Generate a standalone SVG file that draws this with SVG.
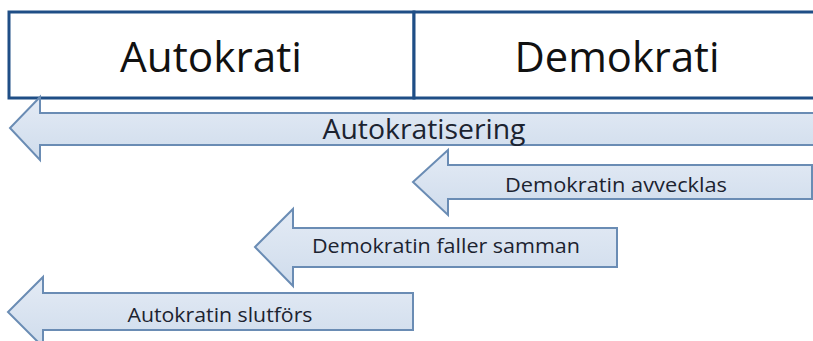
<svg xmlns="http://www.w3.org/2000/svg" width="813" height="341" viewBox="0 0 813 341">
<defs>
<linearGradient id="ag" x1="0" y1="0" x2="0" y2="1">
<stop offset="0" stop-color="#e4ebf5"/>
<stop offset="1" stop-color="#cfdcec"/>
</linearGradient>
</defs>
<style>
.box{fill:#ffffff;stroke:#1f4e86;stroke-width:3}
.arr{fill:url(#ag);stroke:#6a8cb4;stroke-width:2;stroke-linejoin:miter}
.big{font-family:"Open Sans","Liberation Sans",sans-serif;font-size:42px;fill:#111111;text-anchor:middle}
.lbl{font-family:"Open Sans","Liberation Sans",sans-serif;fill:#1c2330;text-anchor:middle}
</style>
<rect width="813" height="341" fill="#ffffff"/>
<g id="autokrati">
<rect class="box" x="9" y="12" width="405" height="86"/>
<text class="big" x="211" y="72" textLength="182" lengthAdjust="spacingAndGlyphs">Autokrati</text>
</g>
<g id="demokrati">
<path class="box" d="M414,12 H816 V98 H414 Z"/>
<text class="big" x="617" y="72" textLength="205" lengthAdjust="spacingAndGlyphs">Demokrati</text>
</g>
<g id="autokratisering">
<path class="arr" d="M816,113 H40 V97 L10,128 L40,160 V145 H816 Z"/>
<text class="lbl" x="424" y="139" font-size="27" textLength="203" lengthAdjust="spacingAndGlyphs">Autokratisering</text>
</g>
<g id="demokratin-avvecklas">
<path class="arr" d="M812,165 H448 V150 L413,182 L448,215 V199 H812 Z"/>
<text class="lbl" x="616" y="192" font-size="20" textLength="222" lengthAdjust="spacingAndGlyphs">Demokratin avvecklas</text>
</g>
<g id="demokratin-faller-samman">
<path class="arr" d="M617,228 H293 V209 L255,247 L293,286 V267 H617 Z"/>
<text class="lbl" x="446" y="253" font-size="20" textLength="268" lengthAdjust="spacingAndGlyphs">Demokratin faller samman</text>
</g>
<g id="autokratin-slutfors">
<path class="arr" d="M413,293 H43 V277 L8,312 L43,347 V330 H413 Z"/>
<text class="lbl" x="220" y="322" font-size="20" textLength="185" lengthAdjust="spacingAndGlyphs">Autokratin slutförs</text>
</g>
<g id="connectors"/>
</svg>
